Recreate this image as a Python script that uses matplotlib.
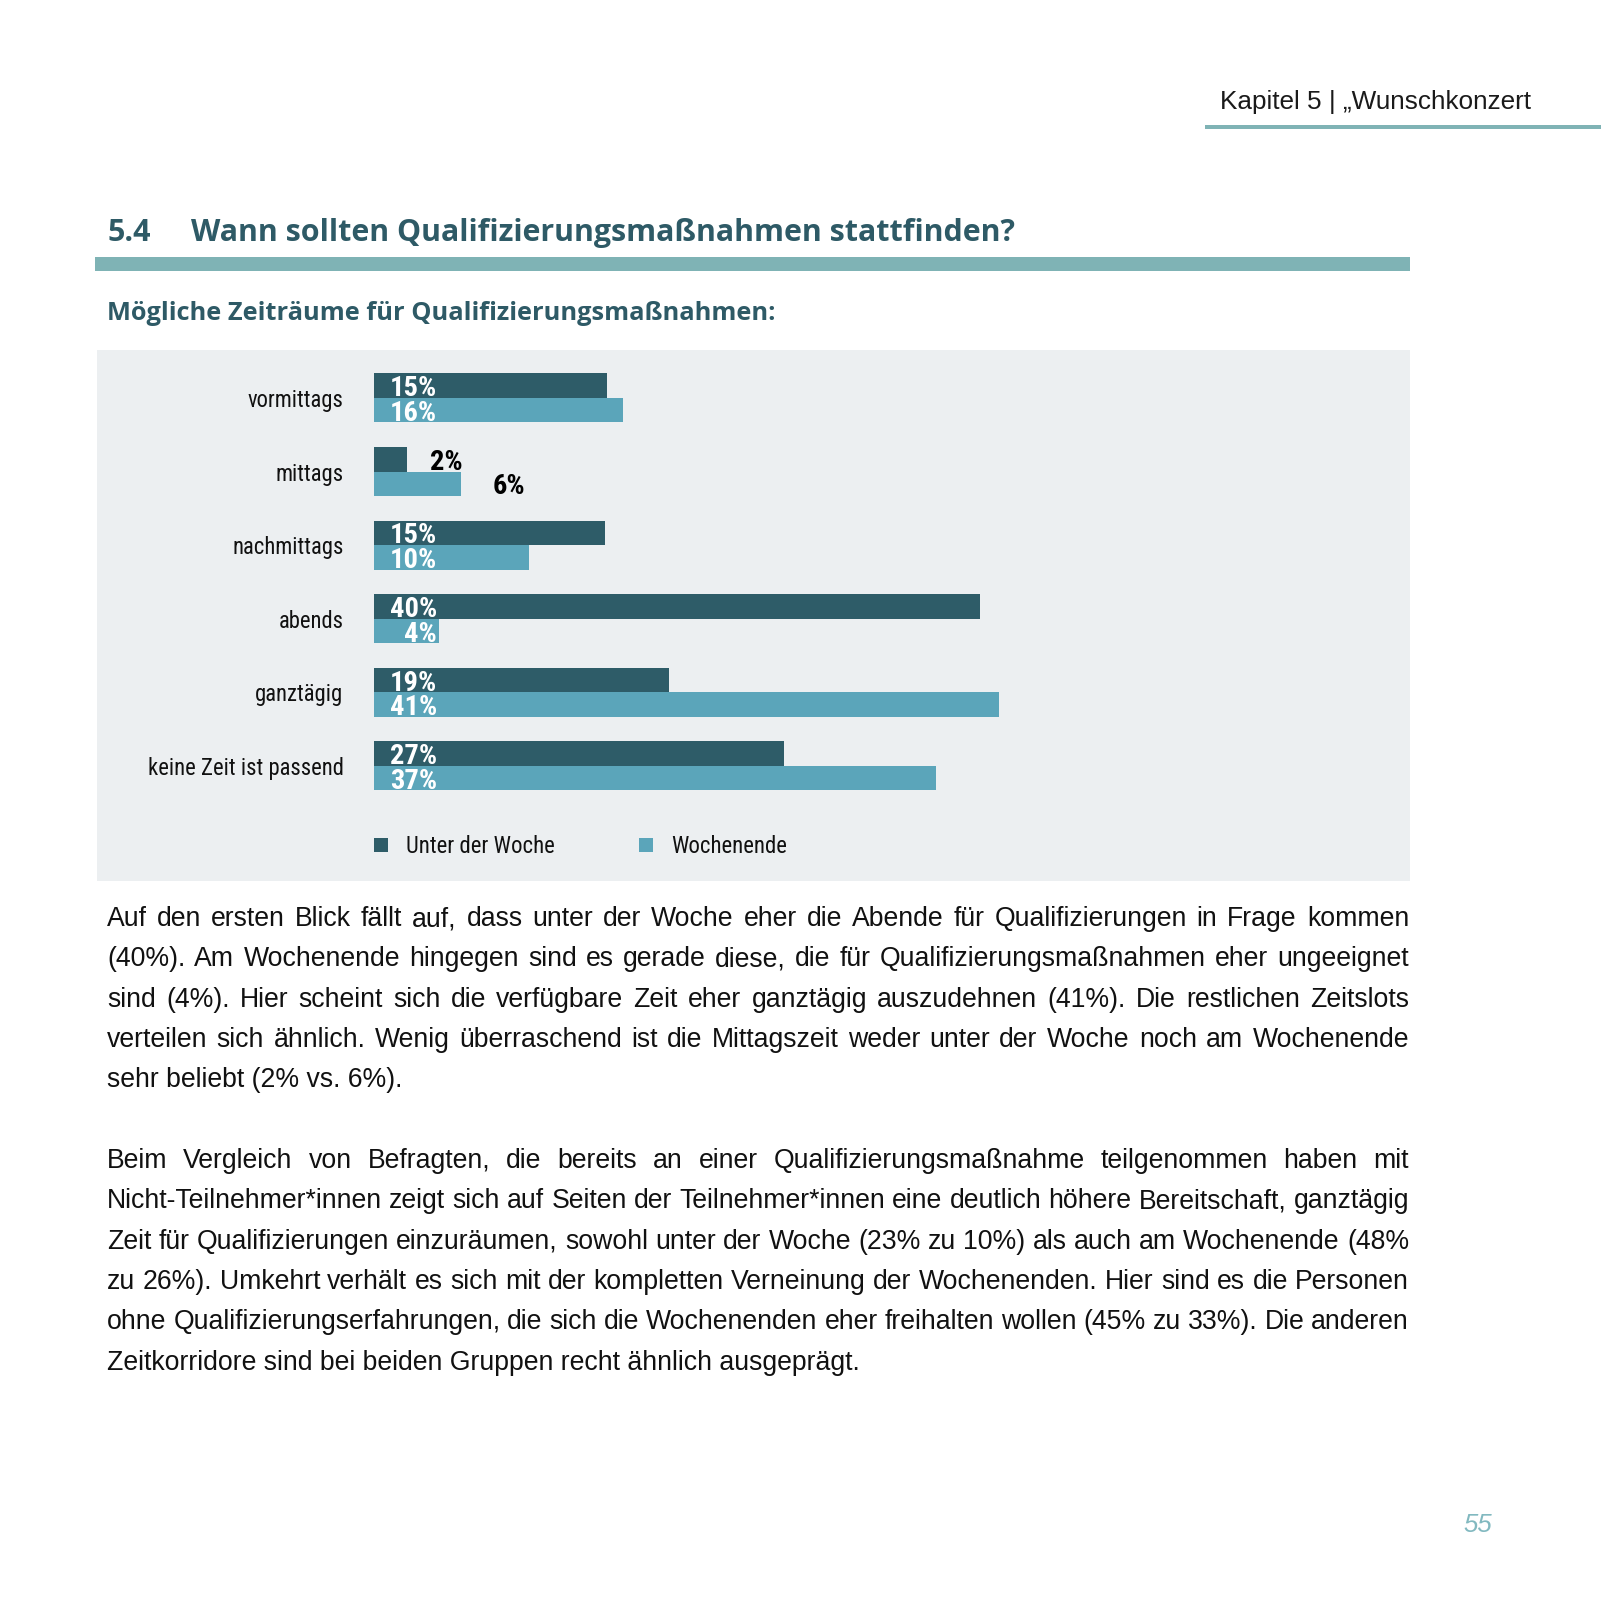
import matplotlib
matplotlib.use('Agg')
import matplotlib.pyplot as plt
from matplotlib import font_manager
from matplotlib.font_manager import FontProperties
from matplotlib.patches import Rectangle
import numpy as np

# --- data read from the page ---
categories = ['vormittags', 'mittags', 'nachmittags', 'abends', 'ganztägig', 'keine Zeit ist passend']
unter_der_woche = [15.3, 2.2, 15.2, 39.9, 19.4, 27.0]
wochenende = [16.4, 5.7, 10.2, 4.3, 41.1, 37.0]
series_names = ['Unter der Woche', 'Wochenende']
outside_labels = ['mittags']   # categories whose labels sit right of the bars

header = 'Kapitel 5 | \u201eWunschkonzert'
section_no = '5.4'
section_title = 'Wann sollten Qualifizierungsmaßnahmen stattfinden?'
chart_title = 'Mögliche Zeiträume für Qualifizierungsmaßnahmen:'
page_no = '55'

para1 = [
    'Auf den ersten Blick fällt auf, dass unter der Woche eher die Abende für Qualifizierungen in Frage kommen',
    '(40%). Am Wochenende hingegen sind es gerade diese, die für Qualifizierungsmaßnahmen eher ungeeignet',
    'sind (4%). Hier scheint sich die verfügbare Zeit eher ganztägig auszudehnen (41%). Die restlichen Zeitslots',
    'verteilen sich ähnlich. Wenig überraschend ist die Mittagszeit weder unter der Woche noch am Wochenende',
    'sehr beliebt (2% vs. 6%).',
]
para2 = [
    'Beim Vergleich von Befragten, die bereits an einer Qualifizierungsmaßnahme teilgenommen haben mit',
    'Nicht-Teilnehmer*innen zeigt sich auf Seiten der Teilnehmer*innen eine deutlich höhere Bereitschaft, ganztägig',
    'Zeit für Qualifizierungen einzuräumen, sowohl unter der Woche (23% zu 10%) als auch am Wochenende (48%',
    'zu 26%). Umkehrt verhält es sich mit der kompletten Verneinung der Wochenenden. Hier sind es die Personen',
    'ohne Qualifizierungserfahrungen, die sich die Wochenenden eher freihalten wollen (45% zu 33%). Die anderen',
    'Zeitkorridore sind bei beiden Gruppen recht ähnlich ausgeprägt.',
]

# --- colours ---
dark = '#2e5c68'
light = '#5ba5ba'
teal_line = '#7fb3b5'
title_col = '#2e5a66'
panel_bg = '#eceff1'

body_font = 'Liberation Sans'
head_font = 'Open Sans'


def narrow_props():
    # look for any condensed/narrow face on the system, else Roboto
    fonts = font_manager.fontManager.ttflist
    for fam in ('Liberation Sans Narrow', 'Roboto Condensed', 'DejaVu Sans', 'Noto Sans', 'Open Sans'):
        reg = [f for f in fonts if f.name == fam and 'condensed' in str(f.stretch)
               or f.name == fam and 'Narrow' in fam]
        reg_n = [f for f in reg if f.weight in (400, 'normal', 'regular') and f.style == 'normal']
        bold = [f for f in reg if f.weight in (700, 'bold') and f.style == 'normal']
        if reg_n and bold:
            return FontProperties(fname=reg_n[0].fname), FontProperties(fname=bold[0].fname)
    return FontProperties(family='Roboto'), FontProperties(family='Roboto', weight='bold')


narrow_reg, narrow_bold = narrow_props()

W = H = 1601
fig = plt.figure(figsize=(W / 100, H / 100), dpi=100)
renderer = fig.canvas.get_renderer()


def fx(x):
    return x / W


def fy(y):
    return 1 - y / H


def text_width(s, prop):
    w, h, d = renderer.get_text_width_height_descent(s, prop, ismath=False)
    return w


def fit_size(s, target_px, prop):
    p = prop.copy()
    p.set_size(20)
    return 20 * target_px / text_width(s, p)


def sized(prop, size):
    p = prop.copy()
    p.set_size(size)
    return p


# header
hp = FontProperties(family=body_font)
fig.text(fx(1531), fy(109), header, ha='right', va='baseline',
         fontproperties=sized(hp, fit_size(header, 311, hp)), color='#1a1a1a')
fig.patches.append(Rectangle((fx(1205), fy(129)), fx(1601) - fx(1205), 4 / H,
                             transform=fig.transFigure, color=teal_line, lw=0))

# section title
tp = FontProperties(family=head_font, weight='bold')
tp = sized(tp, fit_size(section_title, 826, tp))
fig.text(fx(107), fy(241), section_no, ha='left', va='baseline', fontproperties=tp, color=title_col)
fig.text(fx(191), fy(241), section_title, ha='left', va='baseline', fontproperties=tp, color=title_col)
fig.patches.append(Rectangle((fx(95), fy(271)), fx(1410) - fx(95), 14 / H,
                             transform=fig.transFigure, color=teal_line, lw=0))

sp_ = FontProperties(family=head_font, weight='bold')
fig.text(fx(107), fy(320), chart_title, ha='left', va='baseline',
         fontproperties=sized(sp_, fit_size(chart_title, 667, sp_)), color=title_col)

# chart panel
fig.patches.append(Rectangle((fx(97), fy(881)), fx(1410) - fx(97), 531 / H,
                             transform=fig.transFigure, color=panel_bg, lw=0, zorder=-1))

# bar axes: 15.2 px per percent, 73.6 px per category
px_per_pct = 15.2
step = 73.6
bar_px = 24.5
top = 398 - step / 2
n = len(categories)
ax = fig.add_axes([fx(374), fy(top + n * step), 50 * px_per_pct / W, n * step / H])
ax.set_xlim(0, 50)
ax.set_ylim(n - 0.5, -0.5)
ax.patch.set_visible(False)
for sp in ax.spines.values():
    sp.set_visible(False)

y = np.arange(n)
h = bar_px / step
ax.barh(y - h / 2, unter_der_woche, height=h, color=dark, lw=0)
ax.barh(y + h / 2, wochenende, height=h, color=light, lw=0)

cat_prop = sized(narrow_reg, fit_size(categories[-1], 195, narrow_reg))
ax.set_xticks([])
ax.set_yticks(y)
ax.set_yticklabels(categories, fontproperties=cat_prop, color='#111111')
ax.tick_params(axis='y', length=0, pad=22)

lab_prop = sized(narrow_bold, fit_size('15%', 47, narrow_bold))
for i, cat in enumerate(categories):
    for k, (v, off) in enumerate(((unter_der_woche[i], -h / 2), (wochenende[i], h / 2))):
        label = f'{v:.0f}%'
        if cat in outside_labels:
            ax.text(v + 1.5 + 0.6 * k, i + off, label, ha='left', va='center_baseline',
                    color='black', fontproperties=lab_prop)
        else:
            ax.text(4.15, i + off, label, ha='right', va='center_baseline',
                    color='white', fontproperties=lab_prop)

# legend
leg_prop = sized(narrow_reg, fit_size(series_names[0], 148, narrow_reg))
for x0, col, name in ((374, dark, series_names[0]), (639, light, series_names[1])):
    fig.patches.append(Rectangle((fx(x0), fy(852)), 14 / W, 14 / H,
                                 transform=fig.transFigure, color=col, lw=0))
    fig.text(fx(x0 + 32), fy(853), name, ha='left', va='baseline',
             fontproperties=leg_prop, color='#111111')

# body text, justified
left, right = 107, 1409
bp = FontProperties(family=body_font)
body_size = min(fit_size(para2[-1], 767, bp), fit_size(para2[1], right - left, bp))
body_prop = sized(bp, body_size)


def draw_paragraph(lines, base, lead):
    for k, line in enumerate(lines):
        yb = base + k * lead
        if k == len(lines) - 1:
            fig.text(fx(left), fy(yb), line, ha='left', va='baseline',
                     fontproperties=body_prop, color='#111111')
            continue
        words = line.split(' ')
        widths = [text_width(w_, body_prop) for w_ in words]
        gap = (right - left - sum(widths)) / (len(words) - 1)
        x = left
        for w_, ww in zip(words, widths):
            fig.text(fx(x), fy(yb), w_, ha='left', va='baseline',
                     fontproperties=body_prop, color='#111111')
            x += ww + gap


draw_paragraph(para1, 926, 40.3)
draw_paragraph(para2, 1168, 40.3)

# page number
fig.text(fx(1478), fy(1532), page_no, ha='center', va='baseline', fontsize=18.5,
         family=body_font, style='italic', color='#82b9c0')

fig.savefig('out.png', dpi=100, facecolor='white')
